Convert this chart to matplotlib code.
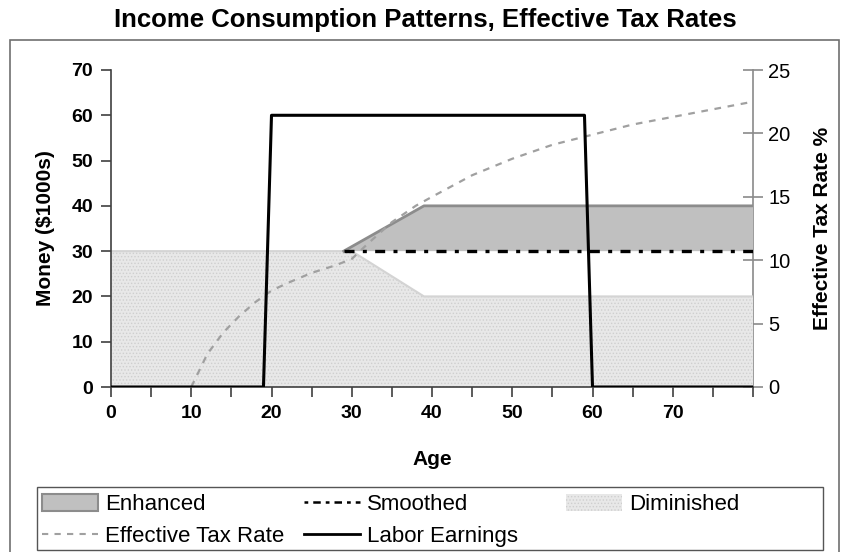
import matplotlib
matplotlib.use("Agg")
import matplotlib.pyplot as plt
from matplotlib.patches import Rectangle, Patch
from matplotlib.lines import Line2D

plt.rcParams['font.family'] = ['Liberation Sans', 'DejaVu Sans']
plt.rcParams['hatch.linewidth'] = 0.6

# ---- data ----
labor_age = [0, 19, 20, 59, 60, 80]
labor_val = [0, 0, 60, 60, 0, 0]

dim_age = [0, 30, 39, 80]
dim_val = [30, 30, 20, 20]

enh_age = [29, 39, 80]
enh_val = [30, 40, 40]

smooth_age = [29, 80]
smooth_val = [30, 30]

tax_age = [10, 11, 12, 14, 16, 18, 20, 22, 25, 28, 30, 32, 35, 38, 40,
           45, 50, 55, 60, 65, 70, 75, 80]
tax_val = [0, 1.3, 2.6, 4.3, 5.6, 6.7, 7.6, 8.2, 9.0, 9.6, 10.1, 11.3, 13.0, 14.3, 15.0,
           16.7, 18.0, 19.1, 19.9, 20.7, 21.3, 21.9, 22.5]

xticks_major = [0, 10, 20, 30, 40, 50, 60, 70]
yticks_left = [0, 10, 20, 30, 40, 50, 60, 70]
yticks_right = [0, 5, 10, 15, 20, 25]

W, H = 841, 552
fig = plt.figure(figsize=(W / 100, H / 100), dpi=100)

# outer border
fig.patches.append(Rectangle((10 / W, -0.01), (839 - 10) / W, (552 - 40) / H + 0.01,
                             transform=fig.transFigure, fill=False,
                             edgecolor='#707070', linewidth=1.2))

ax = fig.add_axes([111 / W, 1 - 387 / H, (753 - 111) / W, (387 - 70) / H])
ax.set_xlim(0, 80)
ax.set_ylim(0, 70)

# Right axis: tax rate
ax2 = ax.twinx()
ax2.set_ylim(0, 25)
ax2.set_yticks(yticks_right)
for s in ('top', 'left', 'bottom'):
    ax2.spines[s].set_visible(False)
ax2.spines['right'].set_color('#8a8a8a')
ax2.spines['right'].set_linewidth(1.2)
ax2.tick_params(axis='y', direction='inout', length=14, width=1.2, color='#8a8a8a',
                labelsize=14.5, pad=4)
ax2.set_ylabel('Effective Tax Rate %', fontsize=15, fontweight='bold', labelpad=16)
ax.set_zorder(ax2.get_zorder() + 1)
ax.patch.set_visible(False)

# Diminished
ax.fill_between(dim_age, 0, dim_val, facecolor='#e8e8e8', edgecolor='#cfcfcf',
                hatch='.....', linewidth=0, zorder=1)
ax.plot(dim_age, dim_val, color='#d4d4d4', lw=1.5, zorder=1.5)

# Enhanced
sm_interp = [30 for _ in enh_age]
ax.fill_between(enh_age, sm_interp, enh_val, facecolor='#c0c0c0', linewidth=0, zorder=2)
ax.plot(enh_age, enh_val, color='#8c8c8c', lw=2, zorder=2.5)

# Smoothed
ax.plot(smooth_age, smooth_val, color='black', lw=2.4,
        dashes=(3, 2.5, 1.2, 2.5), zorder=3)

# Effective tax rate (right-axis scale)
ax.plot(tax_age, tax_val, color='#a0a0a0', lw=1.6, dashes=(3, 3), zorder=4,
        transform=ax2.transData)

# Labor earnings
ax.plot(labor_age, labor_val, color='black', lw=2.2, zorder=5)

ax.spines['top'].set_visible(False)
ax.spines['right'].set_visible(False)
for s in ('left', 'bottom'):
    ax.spines[s].set_color('#404040')
    ax.spines[s].set_linewidth(1.2)

ax.set_xticks(range(0, 81, 5))
ax.set_xticklabels([str(v) if v in xticks_major else '' for v in range(0, 81, 5)])
ax.set_yticks(yticks_left)
ax.tick_params(axis='both', direction='out', length=7, width=1.2, color='#404040',
               labelsize=14, pad=6)
for lab in ax.get_xticklabels() + ax.get_yticklabels():
    lab.set_fontweight('bold')
ax.set_xlabel('Age', fontsize=15, fontweight='bold', labelpad=20)
ax.set_ylabel('Money ($1000s)', fontsize=15, fontweight='bold', labelpad=12)

fig.text(425 / W, 1 - 20 / H, 'Income Consumption Patterns, Effective Tax Rates',
         ha='center', va='center', fontsize=18.5, fontweight='bold')

# Legend (three columns in one frame)
fig.patches.append(Rectangle((37 / W, 1 - 550 / H), (823 - 37) / W, (550 - 487) / H,
                             transform=fig.transFigure, fill=False,
                             edgecolor='#555555', linewidth=1.0))
enh_h = Patch(facecolor='#c0c0c0', edgecolor='#8c8c8c', linewidth=1.5)
tax_h = Line2D([], [], color='#a0a0a0', lw=1.5, dashes=(3, 3))
smo_h = Line2D([], [], color='black', lw=1.8, dashes=(1.5, 2, 3, 2))
lab_h = Line2D([], [], color='black', lw=2)
dim_h = Patch(facecolor='#e8e8e8', edgecolor='#cfcfcf', hatch='.....', linewidth=0)

columns = [
    ([enh_h, tax_h], ['Enhanced', 'Effective Tax Rate'], 42),
    ([smo_h, lab_h], ['Smoothed', 'Labor Earnings'], 304),
    ([dim_h], ['Diminished'], 566),
]
for hs, ls, x0 in columns:
    lg = fig.legend(hs, ls, loc='upper left', bbox_to_anchor=(x0 / W, 1 - 494 / H),
                    frameon=False, fontsize=16, handlelength=2.5, handleheight=0.8,
                    handletextpad=0.35, borderpad=0, labelspacing=0.48, borderaxespad=0)

fig.savefig('out.png', dpi=100)
